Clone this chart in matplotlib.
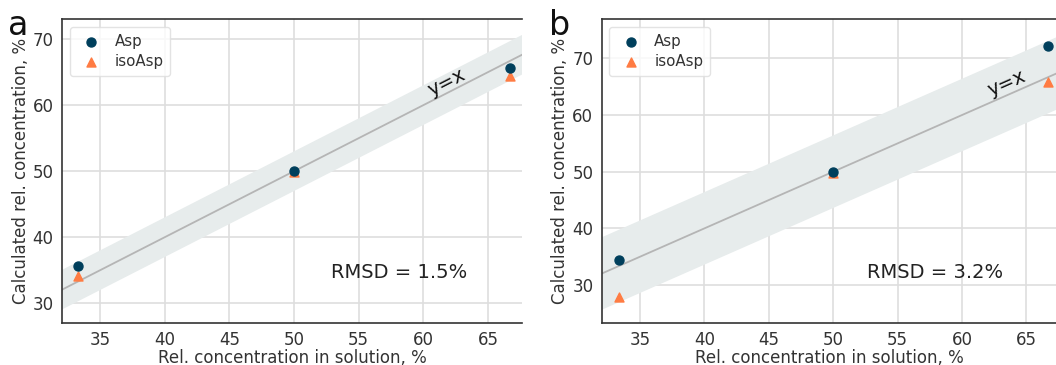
import numpy as np
import matplotlib
matplotlib.use("Agg")
import matplotlib.pyplot as plt

# Data
x_conc = [33.33, 50.0, 66.67]
asp_a = [35.7, 50.0, 65.7]
iso_a = [34.2, 49.9, 64.4]
asp_b = [34.4, 50.0, 72.2]
iso_b = [27.9, 49.8, 65.8]
rmsd = [1.5, 3.2]
panel_letters = ["a", "b"]
xticks = [35, 40, 45, 50, 55, 60, 65]

W, H = 1056, 365
fig = plt.figure(figsize=(W / 100, H / 100), dpi=100)

NAVY = "#003f5c"
CORAL = "#ff7c43"
BAND = "#e7ecec"
LINEC = "#b5b5b5"
GRIDC = "#dedede"

def px(l, r, t, b):
    return [l / W, 1 - b / H, (r - l) / W, (b - t) / H]

panels = [
    dict(rect=px(62, 522, 19.3, 322.7), xlim=(32.06, 67.63), ylim=(27.06, 73.0),
         yticks=[30, 40, 50, 60, 70], asp=asp_a, iso=iso_a, rmsd=rmsd[0],
         yx=(61.8, 63.4), rtxt=(58.1, 34.6), letter=panel_letters[0], lx=8),
    dict(rect=px(601.7, 1057, 19.3, 322.7), xlim=(32.02, 67.38), ylim=(23.35, 76.9),
         yticks=[30, 40, 50, 60, 70], asp=asp_b, iso=iso_b, rmsd=rmsd[1],
         yx=(63.5, 65.6), rtxt=(57.9, 32.2), letter=panel_letters[1], lx=549),
]

for p in panels:
    ax = fig.add_axes(p["rect"])
    ax.set_xlim(*p["xlim"])
    ax.set_ylim(*p["ylim"])
    xs = np.array([20, 80])
    band = 2 * p["rmsd"]
    ax.fill_between(xs, xs - band, xs + band, color=BAND, lw=0, zorder=1)
    ax.plot(xs, xs, color=LINEC, lw=1.3, zorder=2)
    ax.scatter(x_conc, p["asp"], s=42, color=NAVY, marker="o", zorder=4, label="Asp")
    ax.scatter(x_conc, p["iso"], s=42, color=CORAL, marker="^", zorder=3, label="isoAsp")
    ax.set_xticks(xticks)
    ax.set_yticks(p["yticks"])
    ax.grid(True, color=GRIDC, lw=1.2, zorder=0)
    ax.set_axisbelow(True)
    ax.tick_params(labelsize=12, length=0, pad=6, colors="#333333")
    for s in ["left", "bottom", "top"]:
        ax.spines[s].set_color("#333333")
        ax.spines[s].set_linewidth(1.2)
    ax.spines["right"].set_visible(False)
    ax.set_xlabel("Rel. concentration in solution, %", fontsize=12, color="#333333", labelpad=0)
    ax.set_ylabel("Calculated rel. concentration, %", fontsize=12, color="#333333", labelpad=2)
    leg = ax.legend(loc="upper left", fontsize=10.8, frameon=True, handletextpad=0.55,
                    borderpad=0.45, labelspacing=0.35, fancybox=True)
    leg.get_frame().set_edgecolor("#dddddd")
    leg.get_frame().set_linewidth(1.0)
    for t in leg.get_texts():
        t.set_color("#333333")
    # angle of y=x in screen space
    fig.canvas.draw()
    p0 = ax.transData.transform((40, 40))
    p1 = ax.transData.transform((60, 60))
    ang = np.degrees(np.arctan2(p1[1] - p0[1], p1[0] - p0[0]))
    ax.text(p["yx"][0], p["yx"][1], "y=x", fontsize=14, rotation=ang,
            ha="center", va="center", color="#111111", zorder=5)
    ax.text(p["rtxt"][0], p["rtxt"][1], f"RMSD = {p['rmsd']}%", fontsize=14,
            ha="center", va="center", color="#222222", zorder=5)
    fig.text(p["lx"] / W, 1 - 35 / H, p["letter"], fontsize=24, ha="left", va="baseline",
             color="#111111")

fig.savefig("out.png", dpi=100)
